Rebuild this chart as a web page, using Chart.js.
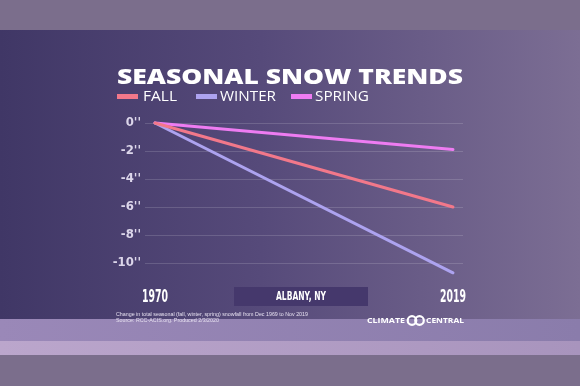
<!DOCTYPE html>
<html><head><meta charset="utf-8">
<script src="https://cdn.jsdelivr.net/npm/chart.js@4/dist/chart.umd.min.js"></script>
<style>html,body{margin:0;padding:0;background:#7b6e8c;}#wrap{width:580px;height:386px;position:relative;}</style>
</head><body><div id="wrap"><canvas id="c" width="580" height="386"></canvas></div>
<script>
const years = [1970, 2019];
const fallValues = [0, -6.0];
const winterValues = [0, -10.7];
const springValues = [0, -1.9];
const seriesNames = ['FALL', 'WINTER', 'SPRING'];
const yTicks = [0, -2, -4, -6, -8, -10];
const title = 'SEASONAL SNOW TRENDS';
const locationLabel = 'ALBANY, NY';
const noteLines = ['Change in total seasonal (fall, winter, spring) snowfall from Dec 1969 to Nov 2019', 'Source: RCC-ACIS.org. Produced 2/3/2020'];

const colors = ['#f2788a', '#ada3f0', '#ee7cf2'];
const condensed = '"DejaVu Sans Condensed", "Liberation Sans Narrow", sans-serif';

function fitText(ctx, text, x, y, w) {
  const m = ctx.measureText(text).width;
  ctx.save();
  ctx.translate(x, y);
  ctx.scale(w / m, 1);
  ctx.fillText(text, 0, 0);
  ctx.restore();
}

const bgPlugin = {
  id: 'bg',
  beforeDraw(chart) {
    const ctx = chart.ctx;
    ctx.save();
    ctx.fillStyle = '#7b6e8c';
    ctx.fillRect(0, 0, 580, 386);
    const g = ctx.createLinearGradient(0, 0, 580, 0);
    g.addColorStop(0, '#403766');
    g.addColorStop(0.45, '#564a7a');
    g.addColorStop(1, '#7c6e94');
    ctx.fillStyle = g;
    ctx.fillRect(0, 30, 580, 290);
    const g2 = ctx.createLinearGradient(0, 0, 580, 0);
    g2.addColorStop(0, '#9a88b8');
    g2.addColorStop(1, '#8a7cab');
    ctx.fillStyle = g2;
    ctx.fillRect(0, 319, 580, 22);
    const g3 = ctx.createLinearGradient(0, 0, 580, 0);
    g3.addColorStop(0, '#bba6cc');
    g3.addColorStop(1, '#a894bd');
    ctx.fillStyle = g3;
    ctx.fillRect(0, 341, 580, 14);
    ctx.restore();
  },
  afterDraw(chart) {
    const ctx = chart.ctx;
    ctx.save();
    // title
    ctx.fillStyle = '#ffffff';
    ctx.textAlign = 'left';
    ctx.textBaseline = 'alphabetic';
    ctx.font = '800 21px "Open Sans", sans-serif';
    fitText(ctx, title, 117, 84, 346);
    // x labels through the x scale
    const xs = chart.scales.x;
    ctx.font = 'bold 17px ' + condensed;
    years.forEach(v => {
      fitText(ctx, String(v), xs.getPixelForValue(v) - 13, 302, 26);
    });
    // legend
    const items = [{x: 117, tx: 143, w: 34}, {x: 196, tx: 220, w: 56}, {x: 291, tx: 315, w: 54}];
    ctx.font = '14px "Open Sans", sans-serif';
    ctx.textBaseline = 'middle';
    items.forEach((it, i) => {
      ctx.fillStyle = colors[i];
      ctx.fillRect(it.x, 94, 21, 5);
      ctx.fillStyle = '#ffffff';
      fitText(ctx, seriesNames[i], it.tx, 97, it.w);
    });
    // location box
    ctx.fillStyle = '#45386c';
    ctx.fillRect(234, 287, 134, 19);
    ctx.fillStyle = '#ffffff';
    ctx.font = 'bold 13px ' + condensed;
    fitText(ctx, locationLabel, 276, 297, 50);
    // notes
    ctx.font = '6px "Liberation Sans", sans-serif';
    ctx.fillStyle = '#e6e0f0';
    fitText(ctx, noteLines[0], 116, 314, 192);
    fitText(ctx, noteLines[1], 116, 320, 103);
    // logo
    ctx.font = 'bold 7px "Open Sans", sans-serif';
    ctx.fillStyle = '#ffffff';
    fitText(ctx, 'CLIMATE', 367, 321, 38);
    fitText(ctx, 'CENTRAL', 426, 321, 38);
    ctx.lineWidth = 2.2;
    ctx.strokeStyle = '#ffffff';
    ctx.beginPath(); ctx.arc(412, 320.5, 4.3, 0, Math.PI * 2); ctx.stroke();
    ctx.beginPath(); ctx.arc(419.5, 320.5, 4.3, 0, Math.PI * 2); ctx.stroke();
    ctx.restore();
  }
};

new Chart(document.getElementById('c'), {
  type: 'line',
  data: {
    labels: years,
    datasets: [
      {label: seriesNames[0], data: years.map((y, i) => ({x: y, y: fallValues[i]})), borderColor: colors[0]},
      {label: seriesNames[1], data: years.map((y, i) => ({x: y, y: winterValues[i]})), borderColor: colors[1]},
      {label: seriesNames[2], data: years.map((y, i) => ({x: y, y: springValues[i]})), borderColor: colors[2]}
    ].map(d => Object.assign(d, {borderWidth: 3, pointRadius: 0, fill: false, tension: 0, borderCapStyle: 'round'}))
  },
  options: {
    responsive: false,
    animation: false,
    devicePixelRatio: 1,
    layout: {padding: {left: 0, right: 117, top: 116, bottom: 0}},
    plugins: {legend: {display: false}, tooltip: {enabled: false}},
    scales: {
      x: {
        type: 'linear', min: 1970 - 1.65, max: 2019 + 1.65,
        afterBuildTicks: s => { s.ticks = years.map(v => ({value: v})); },
        afterFit: s => { s.height = 109; },
        grid: {display: false}, border: {display: false},
        ticks: {display: false}
      },
      y: {
        min: -11, max: 0.5,
        afterBuildTicks: s => { s.ticks = yTicks.map(v => ({value: v})); },
        afterFit: s => { s.width = 145; },
        grid: {color: 'rgba(255,255,255,0.15)', lineWidth: 1, drawTicks: false},
        border: {display: false},
        ticks: {color: '#dcd6ea', font: {family: condensed, weight: 'bold', size: 13}, padding: 4, callback: v => v + "''"}
      }
    }
  },
  plugins: [bgPlugin]
});
</script>
</body></html>
